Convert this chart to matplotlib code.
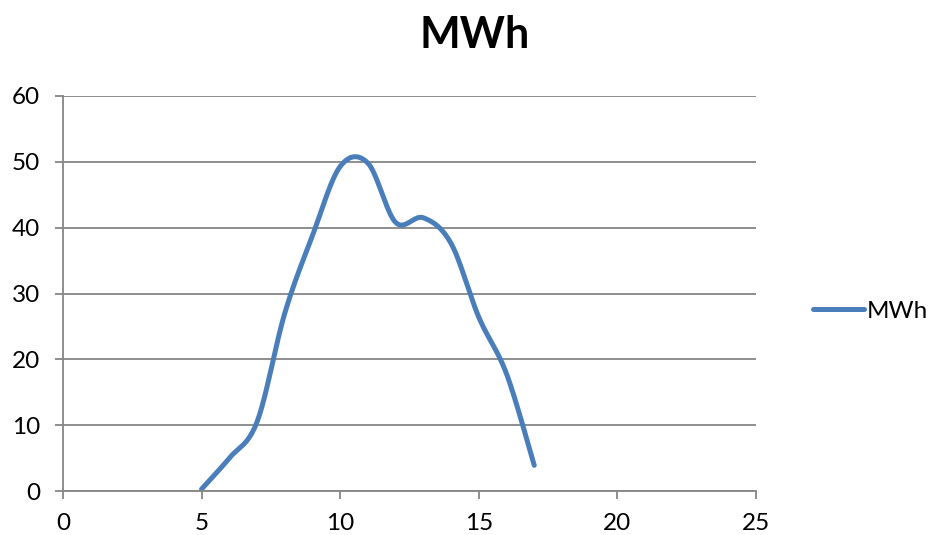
import numpy as np
import matplotlib
matplotlib.use('Agg')
from matplotlib import pyplot as plt

plt.rcParams['font.family'] = ['Lato', 'DejaVu Sans']

# hourly production
hours = [5, 6, 7, 8, 9, 10, 11, 12, 13, 14, 15, 16, 17]
mwh = [0.3, 5.0, 10.5, 27.0, 38.8, 49.3, 49.8, 40.8, 41.5, 37.6, 26.4, 17.8, 3.9]

series_name = 'MWh'
blue = '#4A7EBB'
grid_col = '#868686'


def excel_smooth(x, y, n=40):
    # bezier spline like the one excel uses for smoothed lines
    x = np.asarray(x, float)
    y = np.asarray(y, float)
    px = np.concatenate([[x[0]], x, [x[-1]]])
    py = np.concatenate([[y[0]], y, [y[-1]]])
    t = np.linspace(0, 1, n)
    xs, ys = [], []
    for i in range(1, len(px) - 2):
        x0, y0 = px[i], py[i]
        x3, y3 = px[i + 1], py[i + 1]
        x1 = x0 + (px[i + 1] - px[i - 1]) / 6
        y1 = y0 + (py[i + 1] - py[i - 1]) / 6
        x2 = x3 - (px[i + 2] - px[i]) / 6
        y2 = y3 - (py[i + 2] - py[i]) / 6
        b0 = (1 - t) ** 3
        b1 = 3 * (1 - t) ** 2 * t
        b2 = 3 * (1 - t) * t ** 2
        b3 = t ** 3
        xs.append(b0 * x0 + b1 * x1 + b2 * x2 + b3 * x3)
        ys.append(b0 * y0 + b1 * y1 + b2 * y2 + b3 * y3)
    return np.concatenate(xs), np.concatenate(ys)


fig = plt.figure(figsize=(9.3, 5.35), dpi=100)
ax = fig.add_axes([63 / 930, 44 / 535, 693 / 930, 395 / 535])

sx, sy = excel_smooth(hours, mwh)
ax.plot(sx, sy, color=blue, lw=3.6, solid_capstyle='round', label=series_name)

ax.set_xlim(0, 25)
ax.set_ylim(0, 60)
ax.set_xticks(range(0, 26, 5))
ax.set_yticks(range(0, 61, 10))
ax.yaxis.grid(True, color=grid_col, lw=1.3)
ax.set_axisbelow(True)
for s in ['top', 'right']:
    ax.spines[s].set_visible(False)
for s in ['left', 'bottom']:
    ax.spines[s].set_color(grid_col)
    ax.spines[s].set_linewidth(1.3)
ax.tick_params(axis='both', colors=grid_col, length=6, width=1.3, labelsize=17.5,
               labelcolor='black')
ax.tick_params(axis='y', pad=10.5)
ax.tick_params(axis='x', pad=10)

fig.text(475 / 930, 1 - 35 / 535, 'MWh', ha='center', va='center',
         fontsize=31, fontweight='bold')

ax.legend(loc='center left', bbox_to_anchor=(1.05, 0.455), frameon=False,
          fontsize=17.5, handlelength=2.1, handletextpad=0.15)

plt.savefig('out.png', dpi=100)
